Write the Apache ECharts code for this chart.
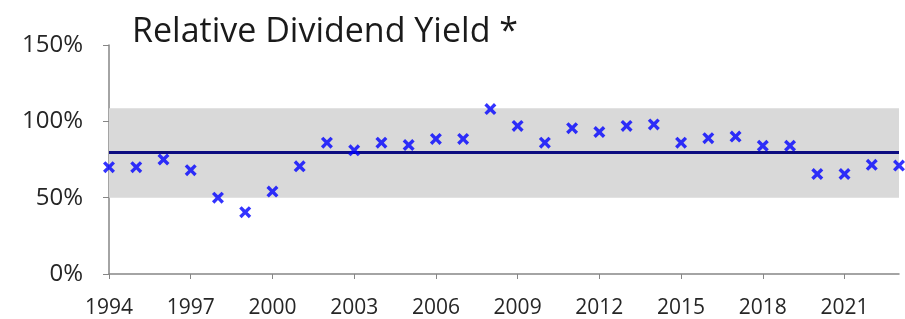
<!DOCTYPE html>
<html>
<head>
<meta charset="utf-8">
<script src="https://cdn.jsdelivr.net/npm/echarts@6/dist/echarts.min.js"></script>
<style>
html, body { margin: 0; padding: 0; background: #fff; }
#main { width: 905px; height: 319px; }
</style>
</head>
<body>
<div id="main"></div>
<script>
// 数据
var years = ['1994', '1995', '1996', '1997', '1998', '1999', '2000', '2001', '2002', '2003',
	'2004', '2005', '2006', '2007', '2008', '2009', '2010', '2011', '2012', '2013',
	'2014', '2015', '2016', '2017', '2018', '2019', '2020', '2021', '2022', '2023'];
var yieldValues = [70, 70, 75, 68, 50, 40.5, 54, 70.5, 86, 81,
	86, 84.5, 88.5, 88.5, 108, 97, 86, 95.5, 93, 97,
	98, 86, 89, 90, 84, 84, 65.5, 65.5, 71.5, 71];
var averageValue = 80;
var bandRange = [50, 108.5];
var yTicks = [0, 50, 100, 150];

var crossSymbol = 'path://M0,2 L2,0 L5,3 L8,0 L10,2 L7,5 L10,8 L8,10 L5,7 L2,10 L0,8 L3,5 Z';

var myChart = echarts.init(document.getElementById('main'));
var option = {
	animation : false,
	title : {
		text : 'Relative Dividend Yield *',
		left : 127,
		top : 10,
		textStyle : {
			fontFamily : 'Open Sans',
			fontWeight : 'normal',
			fontSize : 34,
			color : '#1a1a1a'
		}
	},
	grid : {
		left : 109,
		right : 6,
		top : 45,
		bottom : 45
	},
	xAxis : {
		type : 'category',
		data : years,
		boundaryGap : false,
		axisLine : { lineStyle : { color : '#868686', width : 1.5 } },
		axisTick : { interval : 2, length : 5, lineStyle : { color : '#868686' } },
		axisLabel : {
			interval : 2,
			fontFamily : 'Open Sans',
			fontSize : 21,
			color : '#262626',
			margin : 24
		},
		splitLine : { show : false }
	},
	yAxis : {
		type : 'value',
		min : yTicks[0],
		max : yTicks[yTicks.length - 1],
		interval : 50,
		axisLine : { show : true, lineStyle : { color : '#868686', width : 1.5 } },
		axisTick : { show : true, length : 6, lineStyle : { color : '#868686' } },
		axisLabel : {
			formatter : '{value}%',
			fontFamily : 'Open Sans',
			fontSize : 24,
			color : '#262626',
			margin : 26
		},
		splitLine : { show : false }
	},
	series : [ {
		type : 'scatter',
		data : yieldValues,
		symbol : crossSymbol,
		symbolSize : 12,
		itemStyle : { color : '#0000ff' },
		z : 5,
		markArea : {
			silent : true,
			itemStyle : { color : '#d9d9d9' },
			data : [ [ { yAxis : bandRange[0] }, { yAxis : bandRange[1] } ] ]
		},
		markLine : {
			silent : true,
			symbol : 'none',
			label : { show : false },
			lineStyle : { color : '#0c0c80', width : 3, type : 'solid' },
			data : [ { yAxis : averageValue } ]
		}
	} ]
};
myChart.setOption(option);
</script>
</body>
</html>
